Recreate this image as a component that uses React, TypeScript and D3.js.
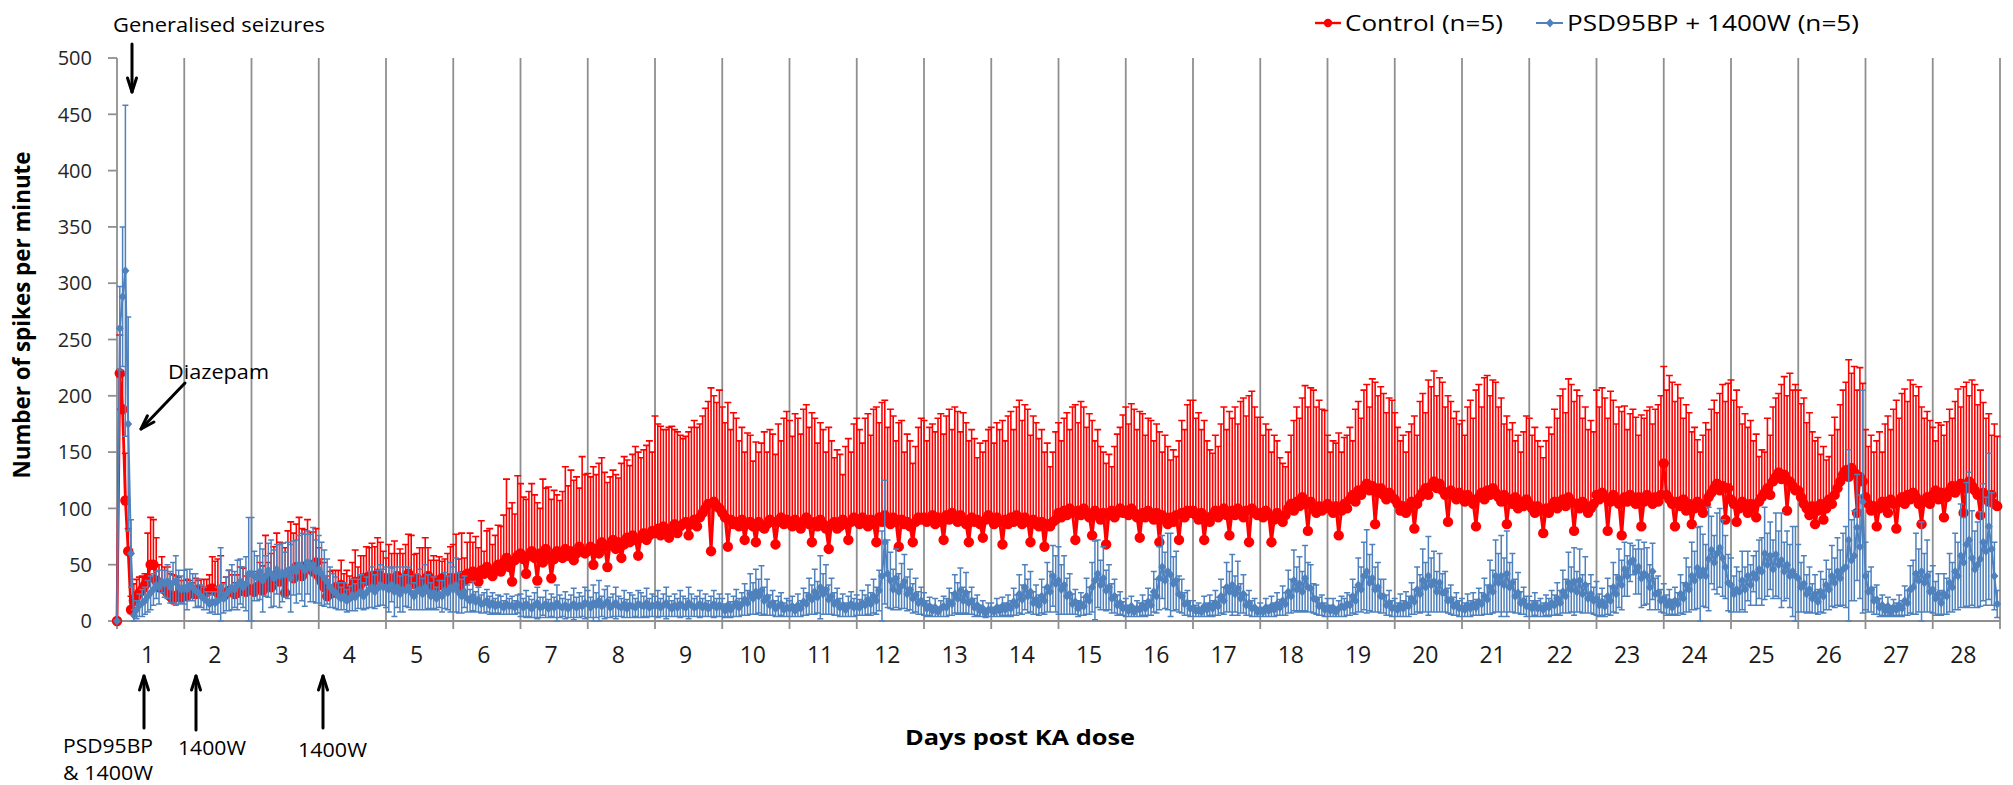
import React from "react";
import * as d3 from "d3";

// Day labels along the x axis, one per 24 hourly bins
const dayLabels = [
  "1", "2", "3", "4", "5", "6", "7", "8", "9", "10", "11", "12", "13", "14",
  "15", "16", "17", "18", "19", "20", "21", "22", "23", "24", "25", "26", "27", "28",
];
const yTickValues = [0, 50, 100, 150, 200, 250, 300, 350, 400, 450, 500];

// Control (n=5): hourly mean spikes per minute, one row per day
const controlMean = [
  0, 220, 188, 107, 62, 10, 18, 22, 25, 28, 32, 38, 50, 50, 36, 30, 33, 28, 25, 22, 19, 22, 24, 21,
  24, 22, 26, 25, 24, 28, 27, 25, 26, 28, 29, 27, 25, 24, 22, 25, 27, 26, 24, 25, 30, 27, 26, 28,
  28, 26, 30, 32, 27, 34, 36, 30, 38, 41, 35, 39, 25, 42, 44, 38, 48, 46, 40, 45, 50, 47, 44, 52,
  40, 35, 30, 22, 28, 25, 30, 27, 32, 28, 25, 22, 30, 35, 28, 33, 38, 36, 40, 34, 38, 42, 40, 36,
  34, 38, 32, 36, 40, 30, 35, 38, 42, 36, 33, 38, 35, 30, 36, 40, 34, 28, 36, 32, 38, 35, 30, 38,
  38, 35, 30, 40, 36, 42, 38, 44, 40, 35, 45, 42, 48, 44, 40, 46, 50, 44, 52, 56, 48, 35, 54, 58,
  60, 55, 42, 58, 62, 56, 36, 60, 52, 64, 58, 38, 55, 62, 60, 56, 64, 58, 62, 54, 60, 66, 62, 60,
  62, 66, 50, 64, 60, 70, 66, 48, 68, 72, 64, 70, 56, 68, 74, 70, 76, 72, 58, 74, 78, 72, 76, 80,
  78, 82, 76, 84, 80, 74, 82, 86, 78, 84, 86, 88, 76, 86, 90, 84, 92, 96, 100, 104, 62, 106, 102, 100,
  96, 92, 66, 90, 86, 88, 84, 90, 72, 86, 88, 84, 70, 88, 84, 82, 86, 90, 88, 68, 88, 92, 86, 90,
  88, 84, 90, 86, 82, 88, 92, 86, 70, 88, 84, 90, 86, 82, 64, 86, 88, 82, 84, 90, 86, 72, 88, 92,
  90, 86, 92, 88, 84, 90, 86, 70, 92, 88, 94, 90, 86, 92, 88, 66, 90, 86, 88, 84, 70, 88, 92, 90,
  92, 88, 90, 94, 86, 92, 88, 72, 94, 90, 96, 92, 88, 94, 90, 86, 70, 92, 88, 90, 86, 74, 90, 94,
  90, 86, 92, 88, 68, 90, 86, 92, 88, 94, 90, 86, 92, 88, 70, 90, 86, 84, 88, 66, 86, 84, 88, 90,
  96, 92, 98, 94, 100, 96, 72, 98, 94, 100, 96, 92, 76, 98, 94, 90, 96, 68, 94, 98, 92, 96, 100, 96,
  98, 94, 100, 96, 92, 74, 96, 92, 98, 94, 90, 96, 70, 94, 90, 86, 92, 88, 94, 72, 96, 92, 98, 96,
  98, 94, 90, 96, 72, 92, 88, 94, 98, 92, 96, 100, 94, 76, 98, 94, 100, 96, 92, 98, 70, 100, 96, 94,
  96, 92, 98, 94, 70, 90, 96, 92, 88, 94, 100, 104, 98, 106, 102, 110, 104, 80, 106, 100, 96, 102, 98, 100,
  104, 100, 96, 102, 76, 98, 104, 100, 108, 112, 106, 116, 112, 118, 122, 116, 120, 86, 114, 118, 112, 108, 114, 110,
  108, 104, 98, 102, 96, 100, 106, 82, 104, 110, 114, 118, 112, 120, 124, 118, 122, 116, 112, 88, 116, 112, 108, 114,
  110, 106, 112, 108, 104, 84, 110, 114, 108, 116, 112, 118, 114, 110, 106, 112, 86, 108, 104, 110, 100, 106, 102, 108,
  104, 100, 96, 102, 98, 78, 100, 96, 102, 106, 100, 104, 108, 102, 110, 106, 80, 104, 100, 106, 102, 96, 100, 104,
  112, 108, 114, 110, 80, 106, 112, 108, 104, 76, 110, 106, 112, 108, 104, 110, 84, 106, 112, 108, 104, 110, 106, 112,
  140, 112, 108, 104, 84, 106, 102, 108, 98, 104, 86, 100, 106, 102, 96, 104, 110, 114, 118, 122, 116, 120, 90, 118,
  108, 104, 88, 100, 106, 102, 96, 104, 100, 92, 106, 110, 114, 118, 112, 124, 128, 132, 126, 130, 98, 124, 120, 116,
  116, 110, 104, 100, 94, 102, 86, 98, 104, 90, 100, 108, 104, 112, 118, 124, 130, 134, 128, 136, 132, 96, 128, 124,
  110, 104, 98, 102, 84, 100, 106, 102, 96, 108, 104, 82, 106, 110, 104, 112, 108, 114, 110, 104, 86, 106, 110, 104,
  112, 116, 108, 114, 92, 110, 116, 120, 114, 118, 122, 96, 118, 124, 120, 116, 112, 94, 114, 110, 106, 112, 104, 102,
];

// Control: top of each error bar (mean + SEM)
const controlUpper = [
  0, 254, 218, 149, 82, 22, 33, 37, 39, 40, 42, 78, 92, 90, 74, 50, 57, 48, 48, 42, 41, 40, 39, 36,
  36, 37, 36, 34, 38, 36, 37, 37, 37, 41, 57, 53, 55, 58, 34, 39, 45, 41, 34, 41, 48, 47, 40, 40,
  43, 44, 44, 52, 49, 76, 52, 60, 66, 78, 70, 69, 65, 80, 88, 78, 86, 92, 82, 81, 90, 79, 79, 82,
  65, 55, 52, 40, 44, 45, 45, 45, 54, 42, 45, 40, 52, 63, 48, 58, 58, 66, 65, 69, 66, 74, 70, 62,
  56, 68, 60, 71, 60, 64, 60, 68, 77, 76, 59, 60, 65, 65, 74, 65, 54, 58, 54, 57, 53, 55, 60, 66,
  68, 77, 55, 78, 56, 70, 78, 70, 75, 65, 89, 62, 80, 82, 68, 76, 85, 84, 94, 126, 100, 105, 95, 129,
  122, 110, 108, 115, 122, 112, 105, 100, 126, 118, 119, 108, 116, 112, 107, 115, 137, 120, 134, 125, 128, 118, 146, 130,
  131, 128, 137, 130, 140, 145, 132, 123, 128, 134, 130, 127, 140, 146, 143, 138, 148, 155, 150, 145, 152, 156, 160, 150,
  182, 175, 173, 170, 170, 172, 173, 170, 168, 165, 162, 164, 168, 172, 178, 172, 175, 182, 189, 195, 207, 200, 194, 205,
  190, 176, 194, 170, 185, 180, 160, 172, 150, 167, 165, 142, 159, 150, 158, 168, 150, 170, 166, 148, 175, 160, 180, 186,
  178, 164, 184, 180, 166, 188, 192, 172, 185, 180, 158, 176, 170, 150, 172, 160, 145, 152, 148, 130, 155, 162, 150, 175,
  180, 170, 158, 180, 184, 165, 188, 190, 176, 194, 196, 172, 188, 182, 160, 176, 178, 150, 166, 160, 140, 155, 172, 180,
  178, 160, 172, 175, 168, 180, 184, 166, 182, 188, 170, 190, 186, 168, 185, 176, 160, 170, 162, 145, 158, 150, 160, 170,
  172, 158, 176, 170, 178, 160, 182, 186, 170, 190, 196, 178, 192, 188, 165, 182, 176, 162, 170, 150, 158, 137, 150, 168,
  176, 160, 180, 185, 170, 190, 192, 176, 195, 190, 172, 184, 178, 160, 170, 155, 150, 140, 148, 137, 155, 166, 172, 183,
  190, 175, 193, 188, 170, 186, 184, 165, 180, 178, 160, 175, 168, 150, 165, 155, 143, 152, 146, 160, 178, 170, 192, 196,
  196, 180, 185, 170, 178, 160, 152, 149, 165, 155, 175, 190, 170, 186, 180, 190, 175, 195, 198, 182, 200, 204, 190, 181,
  181, 165, 175, 170, 150, 165, 160, 145, 140, 137, 150, 165, 178, 190, 180, 198, 209, 190, 207, 205, 190, 196, 188, 187,
  165, 150, 160, 158, 167, 150, 163, 165, 172, 160, 188, 195, 180, 205, 210, 190, 215, 212, 200, 208, 202, 185, 198, 196,
  185, 172, 160, 165, 150, 168, 175, 182, 165, 195, 202, 185, 214, 208, 222, 200, 216, 212, 190, 200, 195, 180, 186, 175,
  178, 165, 190, 196, 180, 205, 210, 190, 216, 218, 200, 214, 212, 190, 198, 175, 182, 170, 176, 160, 165, 150, 168, 182,
  180, 165, 172, 160, 155, 145, 160, 172, 166, 188, 180, 200, 206, 185, 215, 210, 195, 205, 200, 180, 190, 170, 178, 168,
  205, 190, 207, 198, 180, 204, 196, 175, 190, 186, 191, 170, 184, 188, 181, 165, 183, 180, 187, 190, 175, 188, 192, 200,
  226, 205, 218, 212, 195, 210, 198, 180, 192, 185, 168, 172, 161, 150, 165, 176, 170, 188, 196, 185, 202, 210, 195, 211,
  214, 196, 205, 190, 175, 184, 172, 178, 160, 166, 146, 152, 150, 180, 165, 190, 198, 202, 210, 217, 200, 220, 205, 210,
  205, 193, 198, 176, 185, 168, 160, 163, 148, 155, 143, 146, 165, 181, 170, 192, 205, 212, 232, 220, 226, 205, 225, 211,
  170, 155, 165, 150, 160, 168, 150, 175, 182, 170, 188, 196, 180, 202, 206, 195, 214, 210, 200, 208, 190, 180, 186, 178,
  172, 160, 176, 174, 165, 177, 188, 180, 195, 206, 190, 208, 212, 200, 214, 210, 192, 205, 194, 180, 184, 165, 175, 164,
];

// PSD95BP + 1400W (n=5): hourly mean spikes per minute
const treatedMean = [
  0, 260, 288, 311, 175, 60, 5, 10, 14, 16, 18, 22, 25, 28, 32, 30, 35, 33, 35, 30, 34, 36, 30, 28,
  30, 28, 32, 30, 27, 25, 22, 20, 18, 15, 17, 16, 18, 30, 20, 24, 27, 30, 28, 32, 35, 30, 33, 42,
  42, 40, 38, 44, 36, 40, 45, 42, 38, 46, 40, 43, 41, 45, 38, 47, 44, 50, 48, 45, 52, 47, 50, 44,
  46, 42, 38, 35, 30, 27, 25, 22, 20, 22, 18, 20, 23, 21, 24, 26, 22, 25, 28, 30, 26, 29, 32, 30,
  30, 28, 32, 26, 30, 24, 28, 27, 30, 25, 22, 26, 28, 24, 30, 26, 22, 25, 20, 24, 22, 27, 25, 30,
  28, 32, 25, 22, 26, 20, 18, 22, 17, 19, 15, 16, 18, 14, 16, 13, 15, 14, 12, 15, 13, 14, 12, 15,
  14, 12, 15, 13, 11, 14, 16, 12, 13, 15, 11, 14, 12, 16, 13, 12, 14, 11, 13, 15, 12, 14, 13, 16,
  15, 12, 16, 14, 18, 13, 15, 17, 12, 14, 16, 13, 12, 15, 11, 14, 13, 12, 15, 14, 13, 16, 12, 14,
  13, 15, 12, 14, 16, 13, 11, 14, 12, 15, 13, 12, 16, 14, 12, 13, 15, 12, 14, 11, 13, 15, 12, 14,
  12, 9, 14, 10, 13, 16, 12, 15, 19, 16, 24, 20, 26, 22, 27, 18, 21, 14, 16, 11, 13, 15, 10, 12,
  11, 13, 9, 14, 11, 17, 15, 22, 19, 26, 21, 30, 24, 28, 19, 22, 15, 17, 12, 14, 10, 13, 15, 12,
  14, 12, 16, 14, 19, 15, 22, 18, 27, 40, 70, 42, 36, 28, 38, 26, 31, 35, 24, 28, 20, 23, 16, 18,
  15, 11, 13, 9, 12, 8, 11, 13, 12, 17, 15, 24, 20, 27, 18, 25, 16, 18, 12, 14, 9, 11, 7, 10,
  10, 8, 12, 9, 13, 10, 14, 11, 17, 14, 24, 19, 30, 22, 26, 16, 19, 14, 22, 18, 30, 26, 40, 33,
  36, 28, 32, 22, 24, 15, 17, 11, 15, 13, 22, 18, 30, 36, 42, 32, 38, 27, 30, 20, 22, 14, 16, 11,
  12, 9, 13, 8, 11, 10, 14, 11, 17, 14, 26, 22, 38, 48, 36, 44, 41, 33, 36, 24, 22, 15, 16, 11,
  11, 9, 10, 8, 13, 10, 14, 11, 16, 13, 22, 18, 30, 26, 32, 24, 29, 20, 24, 14, 16, 11, 12, 8,
  10, 8, 12, 9, 13, 10, 15, 12, 18, 15, 26, 22, 36, 28, 33, 26, 38, 30, 29, 20, 19, 13, 14, 10,
  12, 9, 12, 8, 11, 13, 12, 15, 14, 22, 18, 32, 28, 40, 44, 34, 38, 28, 30, 22, 22, 14, 16, 11,
  12, 10, 14, 11, 15, 13, 20, 17, 28, 24, 36, 30, 40, 32, 35, 26, 34, 25, 26, 18, 19, 13, 15, 11,
  12, 10, 14, 11, 15, 12, 17, 15, 22, 19, 30, 26, 40, 34, 40, 32, 42, 30, 34, 22, 25, 16, 18, 13,
  13, 11, 15, 11, 12, 10, 14, 12, 16, 14, 20, 16, 26, 22, 34, 28, 35, 26, 36, 24, 32, 20, 24, 18,
  20, 14, 17, 13, 22, 18, 30, 24, 38, 32, 46, 40, 52, 54, 44, 48, 38, 42, 40, 30, 44, 24, 25, 18,
  20, 14, 17, 12, 18, 15, 24, 20, 32, 28, 40, 36, 47, 40, 45, 40, 55, 63, 52, 60, 65, 56, 48, 34,
  32, 24, 28, 26, 36, 28, 40, 32, 42, 38, 46, 44, 60, 50, 58, 46, 59, 50, 54, 44, 50, 40, 44, 40,
  38, 30, 33, 24, 28, 20, 24, 17, 26, 22, 32, 28, 40, 34, 44, 38, 46, 48, 72, 54, 58, 83, 66, 106,
  40, 26, 28, 18, 19, 12, 14, 9, 13, 8, 12, 10, 14, 11, 18, 16, 28, 30, 42, 36, 44, 34, 40, 26,
  28, 20, 24, 16, 24, 22, 34, 30, 44, 40, 58, 52, 68, 72, 56, 46, 50, 55, 70, 62, 84, 64, 40, 15,
];

// PSD95BP + 1400W: SEM for each hourly mean
const treatedSem = [
  0, 37, 62, 147, 95, 30, 5, 8, 10, 12, 12, 14, 15, 14, 12, 15, 10, 12, 15, 14, 18, 22, 15, 12,
  15, 18, 14, 12, 15, 12, 10, 10, 8, 8, 9, 10, 12, 35, 13, 15, 18, 20, 16, 22, 20, 18, 24, 50,
  50, 22, 20, 25, 28, 18, 24, 30, 25, 22, 28, 26, 20, 25, 30, 24, 28, 26, 30, 32, 28, 30, 33, 28,
  30, 28, 25, 20, 18, 15, 14, 12, 10, 12, 10, 11, 14, 12, 13, 15, 12, 14, 16, 18, 15, 16, 18, 16,
  18, 20, 15, 22, 18, 16, 20, 14, 18, 15, 12, 16, 18, 14, 20, 15, 12, 14, 10, 12, 14, 16, 15, 22,
  20, 24, 18, 15, 14, 12, 10, 13, 9, 11, 8, 9, 10, 8, 9, 7, 8, 8, 6, 9, 7, 8, 6, 8,
  10, 8, 12, 9, 8, 11, 14, 9, 8, 12, 8, 10, 9, 16, 10, 8, 12, 8, 10, 14, 9, 11, 9, 14,
  12, 9, 16, 11, 18, 9, 13, 14, 9, 10, 14, 9, 8, 12, 8, 11, 10, 8, 12, 11, 9, 13, 8, 10,
  9, 12, 8, 10, 14, 9, 7, 10, 8, 12, 9, 8, 14, 10, 8, 9, 12, 8, 10, 7, 9, 12, 8, 10,
  8, 6, 10, 7, 9, 12, 8, 10, 14, 11, 18, 14, 20, 15, 22, 12, 16, 9, 11, 7, 9, 10, 6, 8,
  7, 9, 5, 10, 7, 12, 10, 16, 13, 20, 14, 28, 18, 22, 13, 16, 10, 12, 8, 10, 6, 9, 11, 8,
  9, 7, 11, 9, 13, 10, 15, 12, 18, 40, 55, 30, 25, 18, 26, 16, 20, 24, 15, 18, 13, 15, 10, 12,
  10, 7, 8, 5, 8, 4, 7, 9, 8, 12, 10, 17, 14, 20, 12, 18, 10, 12, 8, 9, 5, 7, 4, 6,
  6, 4, 8, 5, 8, 6, 9, 7, 12, 9, 17, 13, 20, 15, 18, 10, 13, 9, 15, 12, 22, 18, 27, 25,
  30, 22, 26, 16, 18, 9, 11, 7, 10, 8, 16, 12, 22, 35, 30, 22, 28, 18, 20, 13, 15, 9, 10, 6,
  8, 5, 9, 4, 7, 6, 9, 7, 12, 9, 18, 15, 28, 28, 25, 34, 37, 24, 26, 16, 15, 10, 11, 7,
  7, 5, 6, 4, 9, 6, 9, 7, 11, 8, 15, 12, 22, 18, 27, 16, 24, 13, 17, 9, 11, 7, 8, 4,
  6, 4, 8, 5, 9, 6, 10, 7, 13, 10, 19, 15, 27, 20, 24, 18, 29, 22, 21, 13, 13, 8, 9, 6,
  8, 5, 8, 4, 7, 9, 8, 10, 9, 15, 12, 24, 20, 30, 37, 25, 30, 20, 22, 15, 15, 9, 11, 7,
  8, 6, 10, 7, 11, 9, 14, 11, 20, 17, 28, 22, 35, 24, 27, 18, 26, 17, 18, 11, 13, 8, 10, 7,
  8, 6, 10, 7, 10, 7, 12, 10, 16, 13, 24, 19, 32, 26, 36, 24, 38, 22, 26, 15, 18, 10, 12, 9,
  9, 7, 10, 7, 8, 6, 9, 8, 11, 9, 14, 11, 19, 15, 27, 20, 30, 18, 28, 17, 25, 13, 17, 12,
  15, 10, 12, 9, 16, 13, 22, 17, 26, 22, 24, 18, 17, 13, 20, 24, 26, 28, 25, 20, 25, 14, 15, 10,
  13, 9, 11, 7, 12, 10, 17, 14, 24, 20, 30, 26, 36, 44, 32, 28, 46, 30, 24, 36, 35, 34, 28, 25,
  24, 16, 20, 18, 26, 20, 22, 18, 16, 24, 26, 30, 41, 28, 30, 26, 37, 30, 42, 26, 30, 28, 40, 44,
  30, 22, 25, 17, 20, 13, 17, 11, 18, 15, 22, 18, 27, 22, 30, 25, 32, 36, 80, 36, 40, 47, 46, 99,
  30, 18, 20, 12, 13, 8, 9, 5, 8, 4, 7, 6, 9, 7, 13, 11, 21, 24, 36, 28, 44, 26, 32, 18,
  21, 15, 18, 11, 18, 16, 26, 22, 34, 30, 46, 40, 55, 60, 42, 34, 38, 42, 52, 48, 65, 50, 30, 12,
];

const RED = "#ff0000";
const BLUE = "#4f81bd";
const GRID = "#8f8f8f";
const FONT = "'Open Sans', 'Noto Sans', sans-serif";

// Straight arrow with an open V head at (x2, y2)
function Arrow({ x1, y1, x2, y2, head = 14, spread = 9 }: { x1: number; y1: number; x2: number; y2: number; head?: number; spread?: number }) {
  const a = Math.atan2(y2 - y1, x2 - x1);
  const bx = x2 - head * Math.cos(a);
  const by = y2 - head * Math.sin(a);
  const px = -Math.sin(a) * spread * 0.5;
  const py = Math.cos(a) * spread * 0.5;
  return (
    <g stroke="#000" strokeWidth={3} fill="none" strokeLinecap="round" strokeLinejoin="round">
      <line x1={x1} y1={y1} x2={x2} y2={y2} />
      <path d={`M${bx + px},${by + py}L${x2},${y2}L${bx - px},${by - py}`} />
    </g>
  );
}

export default function App() {
  const width = 2013;
  const height = 785;
  const plot = { left: 117, right: 2000, top: 58, bottom: 621 };
  const n = controlMean.length;
  const perDay = n / dayLabels.length;

  const x = d3.scaleLinear().domain([0, n]).range([plot.left, plot.right]);
  const y = d3.scaleLinear().domain([0, 500]).range([plot.bottom, plot.top]);

  const lineGen = d3
    .line<number>()
    .x((_, i) => x(i))
    .y((d) => y(d));

  const controlPath = lineGen(controlMean) ?? "";
  const treatedPath = lineGen(treatedMean) ?? "";

  const controlErr = controlMean
    .map((m, i) => {
      const xi = x(i);
      const top = y(controlUpper[i]);
      return `M${xi},${y(m)}V${top}M${xi - 3.5},${top}h7`;
    })
    .join("");

  const treatedErr = treatedMean
    .map((m, i) => {
      const xi = x(i);
      const hi = y(m + treatedSem[i]);
      const lo = y(Math.max(0, m - treatedSem[i]));
      return `M${xi},${lo}V${hi}M${xi - 3},${hi}h6M${xi - 3},${lo}h6`;
    })
    .join("");

  const diamonds = treatedMean
    .map((m, i) => {
      const xi = x(i);
      const yi = y(m);
      return `M${xi},${yi - 4.5}l4,4.5l-4,4.5l-4,-4.5z`;
    })
    .join("");

  const boundaries = d3.range(0, dayLabels.length + 1).map((k) => k * perDay);

  return (
    <svg
      width={width}
      height={height}
      viewBox={`0 0 ${width} ${height}`}
      style={{ position: "absolute", left: 0, top: 0, background: "#fff" }}
      fontFamily={FONT}
    >
      <rect width={width} height={height} fill="#fff" />

      {/* day gridlines */}
      {boundaries.slice(1).map((b) => (
        <line key={`g${b}`} x1={x(b)} x2={x(b)} y1={plot.top} y2={plot.bottom} stroke={GRID} strokeWidth={1.8} />
      ))}

      {/* axes */}
      <line x1={plot.left} x2={plot.left} y1={plot.top} y2={plot.bottom} stroke={GRID} strokeWidth={1.8} />
      <line x1={plot.left} x2={plot.right} y1={plot.bottom} y2={plot.bottom} stroke={GRID} strokeWidth={1.8} />
      {yTickValues.map((v) => (
        <g key={`yt${v}`}>
          <line x1={plot.left - 9} x2={plot.left} y1={y(v)} y2={y(v)} stroke={GRID} strokeWidth={1.8} />
          <text x={92} y={y(v)} dy="0.36em" textAnchor="end" fontSize={20} fill="#262626">
            {v}
          </text>
        </g>
      ))}
      {boundaries.map((b) => (
        <line key={`xt${b}`} x1={x(b)} x2={x(b)} y1={plot.bottom} y2={plot.bottom + 8} stroke={GRID} strokeWidth={1.8} />
      ))}
      {dayLabels.map((lab, k) => (
        <text key={`xl${lab}`} x={x(k * perDay + perDay / 2) - 3} y={663} textAnchor="middle" fontSize={23} fill="#1a1a1a">
          {lab}
        </text>
      ))}

      {/* Control series */}
      <path d={controlErr} stroke={RED} strokeWidth={1.6} fill="none" />
      <path d={controlPath} stroke={RED} strokeWidth={2.8} fill="none" strokeLinejoin="round" />
      {controlMean.map((m, i) => (
        <circle key={`c${i}`} cx={x(i)} cy={y(m)} r={5.2} fill={RED} />
      ))}

      {/* PSD95BP + 1400W series */}
      <path d={treatedErr} stroke={BLUE} strokeWidth={1.5} fill="none" />
      <path d={treatedPath} stroke={BLUE} strokeWidth={2} fill="none" strokeLinejoin="round" />
      <path d={diamonds} fill={BLUE} />

      {/* axis titles */}
      <text
        transform="translate(30,315) rotate(-90)"
        textAnchor="middle"
        fontSize={23}
        fontWeight={700}
        textLength={327}
        lengthAdjust="spacingAndGlyphs"
        fill="#000"
      >
        Number of spikes per minute
      </text>
      <text x={1020} y={745} textAnchor="middle" fontSize={22} fontWeight={700} textLength={230} lengthAdjust="spacingAndGlyphs" fill="#000">
        Days post KA dose
      </text>

      {/* legend */}
      <line x1={1315} x2={1341} y1={23} y2={23} stroke={RED} strokeWidth={2.4} />
      <circle cx={1328} cy={23} r={4.2} fill={RED} />
      <text x={1345} y={23} dy="0.36em" fontSize={22} textLength={158} lengthAdjust="spacingAndGlyphs" fill="#000">
        Control (n=5)
      </text>
      <line x1={1536} x2={1563} y1={23} y2={23} stroke={BLUE} strokeWidth={2} />
      <path d={`M1550,18.5l4,4.5l-4,4.5l-4,-4.5z`} fill={BLUE} />
      <text x={1567} y={23} dy="0.36em" fontSize={22} textLength={292} lengthAdjust="spacingAndGlyphs" fill="#000">
        PSD95BP + 1400W (n=5)
      </text>

      {/* annotations */}
      <text x={113} y={32} fontSize={20} textLength={212} lengthAdjust="spacingAndGlyphs" fill="#000">
        Generalised seizures
      </text>
      <Arrow x1={132} y1={44} x2={132} y2={92} />
      <text x={168} y={379} fontSize={20} textLength={101} lengthAdjust="spacingAndGlyphs" fill="#000">
        Diazepam
      </text>
      <Arrow x1={185} y1={383} x2={141} y2={429} />

      <Arrow x1={144} y1={728} x2={144} y2={676} />
      <Arrow x1={196} y1={730} x2={196} y2={676} />
      <Arrow x1={323} y1={728} x2={323} y2={676} />
      <text x={63} y={753} fontSize={20} textLength={90} lengthAdjust="spacingAndGlyphs" fill="#000">
        PSD95BP
      </text>
      <text x={63} y={780} fontSize={20} textLength={90} lengthAdjust="spacingAndGlyphs" fill="#000">
        &amp; 1400W
      </text>
      <text x={178} y={755} fontSize={20} textLength={68} lengthAdjust="spacingAndGlyphs" fill="#000">
        1400W
      </text>
      <text x={298} y={757} fontSize={20} textLength={69} lengthAdjust="spacingAndGlyphs" fill="#000">
        1400W
      </text>
    </svg>
  );
}
